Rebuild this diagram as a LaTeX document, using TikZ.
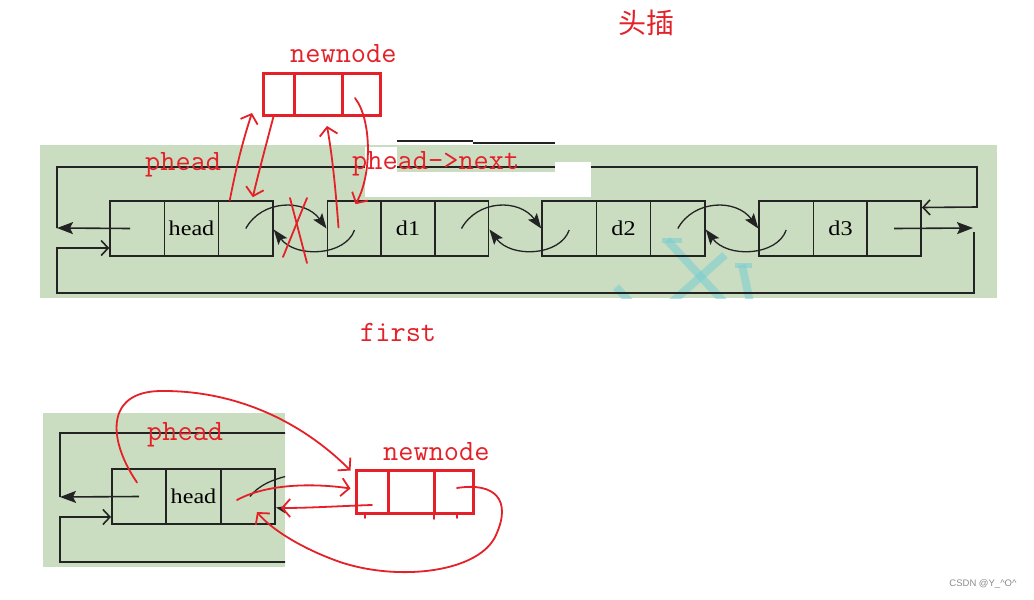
\documentclass[tikz,border=0pt]{standalone}
\usepackage{fontspec}
\newfontfamily\cjkfont{Noto Sans CJK SC}
\newfontfamily\cellfont[FakeStretch=1.15]{Liberation Serif}
\newfontfamily\markfont{Liberation Sans}
\usetikzlibrary{arrows.meta,calc}
\definecolor{panel}{RGB}{203,221,193}
\definecolor{ink}{RGB}{35,35,35}
\definecolor{pen}{RGB}{228,32,40}
\definecolor{wm}{RGB}{120,205,210}
\tikzset{
  cell/.style={draw=ink, line width=1.6pt, minimum width=54.3pt, minimum height=55pt, inner sep=0pt, font=\cellfont\fontsize{21}{21}\selectfont},
  link/.style={draw=ink, line width=1.6pt},
  filled/.style={-{Stealth[length=16pt,width=12pt,inset=3pt]}},
  barb/.style={-{Straight Barb[length=7pt,width=15pt]}},
  curvelink/.style={draw=ink, line width=1.3pt, -{Stealth[length=15pt,width=11pt,inset=3pt]}},
  redbox/.style={draw=pen, line width=3pt, minimum height=42pt, inner sep=0pt},
  redpen/.style={draw=pen, line width=1.8pt, line cap=round, line join=round},
  penarrow/.style={redpen, -{Straight Barb[length=8pt,width=18pt]}},
  redlabel/.style={text=pen, font=\ttfamily\fontsize{29.5}{30}\selectfont, inner sep=0pt, anchor=base west},
}
\begin{document}
\begin{tikzpicture}[x=1pt,y=-1pt]
\useasboundingbox (0,0) rectangle (1034,600);
\fill[white] (0,0) rectangle (1034,600);

% ---------- top panel ----------
\fill[panel] (40,145) rectangle (997,298);
\begin{scope}
  \clip (40,145) rectangle (997,298);
  \draw[wm, line width=8pt, opacity=.55] (667,240) -- (724,302);
  \draw[wm, line width=8pt, opacity=.55] (725,255) -- (672,302);
  \draw[wm, line width=8pt, opacity=.55] (742,265) -- (750,302);
  \draw[wm, line width=8pt, opacity=.55] (616,287) -- (630,302);
  \draw[wm, line width=5pt, opacity=.55] (662,240) -- (682,240);
  \draw[wm, line width=5pt, opacity=.55] (735,265) -- (752,265);
\end{scope}

% list nodes
\node[cell] (h1) at (137.2,228.5) {};
\node[cell] (h2) at (191.5,228.5) {head};
\node[cell] (h3) at (245.8,228.5) {};
\node[cell] (p1) at (354.5,228.5) {};
\node[cell] (p2) at (408,228.5) {d1};
\node[cell] (p3) at (461.5,228.5) {};
\node[cell] (q1) at (569.2,228.5) {};
\node[cell] (q2) at (623.5,228.5) {d2};
\node[cell] (q3) at (677.8,228.5) {};
\node[cell] (r1) at (786.2,228.5) {};
\node[cell] (r2) at (840.5,228.5) {d3};
\node[cell] (r3) at (894,228.5) {};

% outer loops
\coordinate (tl) at (57,228);
\coordinate (tr) at (973,228);
\draw[link,filled] ([xshift=-7pt]h1.center) -- (tl);
\draw[link,barb] (tl) -- (57,167) -- (977,167) -- (977,207) -- ([yshift=21pt]r3.east);
\draw[link,filled] (r3.center) -- (tr);
\draw[link,barb] (974,232) -- (974,293) -- (57,293) -- (57,248) -- ([yshift=-19.5pt]h1.west);

% curved prev/next links
\foreach \a/\b in {h3/p1, p3/q1, q3/r1}{
  \draw[curvelink] (\a.center) .. controls +(16,-29) and +(-22,-30) .. (\b.west);
  \draw[curvelink] ([yshift=-1.5pt]\b.center) .. controls +(-9,26) and +(22,29) .. ([yshift=-1pt]\a.east);
}

% white patches of the screenshot
\fill[white] (365,147) rectangle (397,172);
\fill[white] (365,172) rectangle (591,197);
\fill[white] (555,162) rectangle (591,172);
\draw[ink, line width=1.6pt] (397,141) -- (473,141);
\draw[ink, line width=1.6pt] (473,143) -- (555,143);

% red new node (top)
\node[redbox, minimum width=31pt] (n1) at (278.5,94) {};
\node[redbox, minimum width=48pt] (n2) at (318,94) {};
\node[redbox, minimum width=38pt] (n3) at (361,94) {};

\coordinate (t1) at (252,113);
\coordinate (t3) at (327,126);
\draw[penarrow] ([xshift=-16pt]h3.north) .. controls (236,168) and (243,140) .. (t1);
\draw[penarrow] ([xshift=-5pt]n1.south) .. controls (266,145) and (258,175) .. ([xshift=7pt,yshift=3pt]h3.north);
\draw[penarrow] ([xshift=-16pt,yshift=1pt]p1.center) .. controls (336,195) and (333,160) .. (t3);
\draw[penarrow] ([xshift=-6pt,yshift=-4pt]n3.center) .. controls (372,120) and (372,175) .. ([xshift=1pt,yshift=-4pt]p1.north);
\draw[redpen] (290,198) -- (307,263);
\draw[redpen] (307,198) -- (283,257);

% red labels (top)
\node[text=pen, font=\cjkfont\fontsize{28}{28}\selectfont] at (646,23) {头插};
\node[redlabel] at (290,62) {newnode};
\node[redlabel] at (145,170) {phead};
\node[redlabel] at (352,169) {phead->next};
\node[redlabel] at (360,341) {first};

% ---------- bottom panel ----------
\fill[panel] (43,413) rectangle (285,567);
\begin{scope}
  \clip (43,413) rectangle (285,567);
  \node[cell] (b1) at (139,496.5) {};
  \node[cell] (b2) at (193.5,496.5) {head};
  \node[cell] (b3) at (248,496.5) {};
  \coordinate (bl) at (60,497);
  \draw[link,filled] ([xshift=0pt]b1.center) -- (bl);
  \draw[link] (bl) -- (60,433) -- (295,433);
  \draw[link,barb] (295,562) -- (60,562) -- (60,517) -- ([yshift=-20.5pt]b1.west);
  \draw[ink, line width=1.3pt] ([xshift=2pt]b3.center) .. controls (258,486) and (272,479) .. (292,475);
  \draw[curvelink] (308,524) .. controls (297,517) and (288,510) .. ([yshift=-11pt]b3.east);
\end{scope}

% red new node (bottom)
\node[redbox, minimum width=32pt, minimum height=43pt] (m1) at (372,491.5) {};
\node[redbox, minimum width=46pt, minimum height=43pt] (m2) at (411,491.5) {};
\node[redbox, minimum width=39pt, minimum height=43pt] (m3) at (453.5,491.5) {};
\draw[redpen] (365,513) -- (365,518);
\draw[redpen] (434,513) -- (434,519);
\draw[redpen] (457,513) -- (457,518);

\draw[penarrow] ([xshift=-2pt,yshift=14pt]b1.center) .. controls (108,440) and (105,392) .. (160,391)
   .. controls (240,390) and (305,425) .. ([xshift=-4pt,yshift=-2pt]m1.north west);
\draw[penarrow] ([xshift=-11pt,yshift=-3.5pt]b3.center) .. controls (270,482) and (320,484) .. ([xshift=-4pt,yshift=3pt]m1.west);
\draw[penarrow] ([yshift=-13.5pt]m1.center) .. controls (340,506) and (310,508) .. ([xshift=5pt,yshift=-11.5pt]b3.east);
\draw[penarrow] ([xshift=3.5pt,yshift=3.5pt]m3.center) .. controls (495,482) and (512,500) .. (496,535)
   .. controls (480,572) and (400,582) .. (340,562) .. controls (300,548) and (270,528) .. ([xshift=9pt,yshift=-15.5pt]b3.center);

\node[redlabel] at (147,440) {phead};
\node[redlabel] at (383,460) {newnode};

\node[text=black!45, font=\markfont\fontsize{9.5}{10}\selectfont] at (983,584) {CSDN @Y\_\textasciicircum O\textasciicircum};
\end{tikzpicture}
\end{document}
